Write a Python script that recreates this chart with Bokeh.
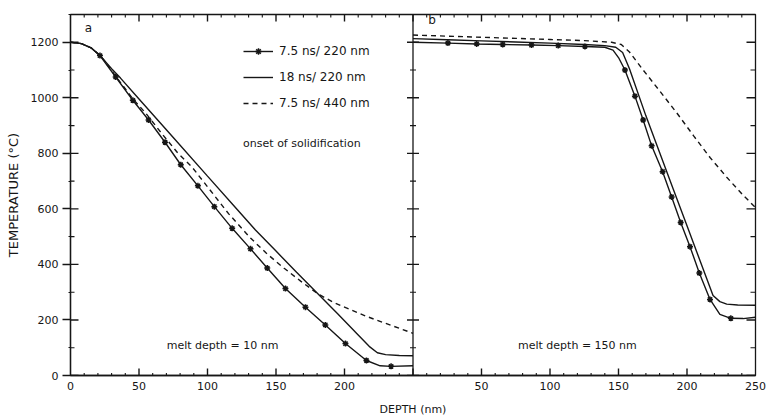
from bokeh.plotting import figure
from bokeh.models import (Range1d, FixedTicker, SingleIntervalTicker, Label,
                          Legend, LegendItem, ColumnDataSource, CDSView, BooleanFilter)
from bokeh.embed import file_html
from bokeh.resources import INLINE

# ---- panel a: melt depth 10 nm ----
a_fast_x = [0, 8, 15, 21.5, 33, 45.5, 57, 69, 80.5, 93, 105, 118, 131.4, 143.6, 156.9, 171.5, 186, 200.7, 216, 226, 234, 250]
a_fast_y = [1200, 1195, 1180, 1152, 1075, 991, 920, 840, 759, 683, 608, 530, 456, 387, 313, 246, 182, 115, 54, 35, 33, 35]
a_fast_marked = [0, 0, 0, 1, 1, 1, 1, 1, 1, 1, 1, 1, 1, 1, 1, 1, 1, 1, 1, 0, 1, 0]

a_slow_x = [0, 8, 15, 22, 30, 36.5, 50, 75, 100, 122, 135, 150, 165, 180, 195, 210, 218, 224, 230, 240, 250]
a_slow_y = [1200, 1195, 1180, 1150, 1105, 1071, 996, 857, 718, 596, 524, 448, 372, 297, 222, 146, 105, 82, 75, 72, 71]

a_long_x = [0, 8, 15, 22, 33, 45.5, 54.7, 67, 78, 88.8, 102, 115.5, 131.4, 143, 155.7, 168, 180, 192, 204, 216, 228.7, 240, 250]
a_long_y = [1200, 1195, 1180, 1152, 1078, 996, 946, 869, 803, 750, 667, 582, 495, 440, 387, 340, 296, 263, 238, 213, 190, 170, 152]

# ---- panel b: melt depth 150 nm ----
b_fast_x = [0, 25.5, 46.5, 65.5, 86.5, 106, 125.5, 140, 146, 150, 154.7, 162, 168, 174.2, 182.2, 188.8, 195.4, 202.2, 209, 216.8, 224, 232, 241, 250]
b_fast_y = [1200, 1197, 1194, 1192, 1190, 1188, 1185, 1182, 1172, 1145, 1100, 1006, 920, 827, 734, 643, 551, 464, 369, 274, 220, 206, 205, 210]
b_fast_marked = [0, 1, 1, 1, 1, 1, 1, 0, 0, 0, 1, 1, 1, 1, 1, 1, 1, 1, 1, 1, 0, 1, 0, 0]

b_slow_x = [0, 25, 50, 75, 100, 125, 140, 148, 153, 158, 170, 180, 190, 200, 210, 219, 224, 229, 237, 250]
b_slow_y = [1213, 1209, 1205, 1201, 1197, 1192, 1188, 1182, 1163, 1105, 935, 803, 671, 539, 407, 288, 266, 257, 254, 253]

b_long_x = [0, 25, 50, 75, 100, 125, 145, 152, 158, 168, 180, 192.5, 205, 216.8, 229, 241, 250]
b_long_y = [1226, 1222, 1218, 1214, 1210, 1206, 1200, 1192, 1165, 1100, 1025, 946, 862, 785, 714, 649, 605]

series_labels = ["7.5 ns/ 220 nm", "18 ns/ 220 nm", "7.5 ns/ 440 nm"]
depth_ticks_a = [0, 50, 100, 150, 200]
depth_ticks_b = [50, 100, 150, 200, 250]
temp_major = [0, 200, 400, 600, 800, 1000, 1200]
temp_minor = [100, 300, 500, 700, 900, 1100]
panel_width_nm = 250
temp_top = 1300

INK = "#161616"
FONT = "DejaVu Sans"

W, H = 768, 420
BL, BR, BT, BB = 70, 13, 14, 45
x_end = 2 * panel_width_nm

p = figure(width=W, height=H, output_backend="svg", toolbar_location=None,
           x_range=Range1d(0, x_end), y_range=Range1d(0, temp_top),
           min_border_left=BL, min_border_right=BR, min_border_top=BT, min_border_bottom=BB,
           background_fill_color="white", border_fill_color="white")
p.extra_x_ranges = {"b": Range1d(-panel_width_nm, panel_width_nm)}
p.grid.visible = False
p.outline_line_color = INK
p.outline_line_width = 1.3

# data units per screen pixel, used for the tick lengths
dx_px = x_end / (W - BL - BR)
dy_px = temp_top / (H - BT - BB)

# bottom axis: two depth scales side by side
major = depth_ticks_a + [panel_width_nm + t for t in depth_ticks_b]
minor = [t for t in range(0, x_end + 1, 10) if t % 50 != 0]
xax = p.below[0]
xax.ticker = FixedTicker(ticks=major, minor_ticks=minor)
overrides = {t: str(t) for t in depth_ticks_a}
overrides.update({panel_width_nm + t: str(t) for t in depth_ticks_b})
xax.major_label_overrides = overrides
xax.axis_label = "DEPTH (nm)"

yax = p.left[0]
yax.ticker = SingleIntervalTicker(interval=200, num_minor_ticks=2)
yax.axis_label = "TEMPERATURE (\u00b0C)"

for ax in (xax, yax):
    ax.axis_line_color = INK
    ax.axis_line_width = 1.3
    ax.major_tick_line_color = INK
    ax.major_tick_line_width = 1.3
    ax.minor_tick_line_color = INK
    ax.major_label_text_font = FONT
    ax.major_label_text_font_size = "11px"
    ax.major_label_text_color = INK
    ax.axis_label_text_font = FONT
    ax.axis_label_text_font_size = "11px"
    ax.axis_label_text_font_style = "normal"
    ax.axis_label_text_color = INK

yax.axis_label_text_font_size = "13px"

xax.major_tick_in = 0
xax.major_tick_out = 0
xax.minor_tick_in = 0
xax.minor_tick_out = 0
xax.major_label_standoff = 6
xax.axis_label_standoff = 10

yax.major_tick_in = 0
yax.major_tick_out = 8
yax.minor_tick_in = 0
yax.minor_tick_out = 2
yax.major_label_standoff = 4
yax.axis_label_standoff = 7


# inward tick marks along every frame edge and on both sides of the panel divider,
# collected as short polylines
tick_xs, tick_ys, tick_w = [], [], []


def vticks(xs, y0, length_px, width):
    for x in xs:
        tick_xs.append([x, x])
        tick_ys.append([y0, y0 + length_px * dy_px])
        tick_w.append(width)


def hticks(ys, x0, length_px, width):
    for y in ys:
        tick_xs.append([x0, x0 + length_px * dx_px])
        tick_ys.append([y, y])
        tick_w.append(width)


edge_major = [t for t in major if 0 < t < x_end] + [panel_width_nm]
vticks(edge_major, 0, 7, 1.4)
vticks(minor, 0, 2.5, 1.1)
vticks(edge_major, temp_top, -7, 1.4)
vticks(minor, temp_top, -3, 1.1)
hticks(temp_major, 0, 8, 1.4)
hticks(temp_minor, 0, 4, 1.1)
hticks(temp_major, x_end, -9, 1.4)
hticks(temp_minor, x_end, -5, 1.1)
hticks(temp_major, panel_width_nm - 6 * dx_px, 12, 1.4)
hticks(temp_minor, panel_width_nm - 3 * dx_px, 6, 1.1)
vticks([panel_width_nm], 0, temp_top / dy_px, 1.3)
p.multi_line(xs="xs", ys="ys", line_width="w", line_color=INK,
             source=ColumnDataSource(dict(xs=tick_xs, ys=tick_ys, w=tick_w)))


def draw(xs, ys, range_name="default", dash="solid", marked=None):
    src = ColumnDataSource(dict(x=xs, y=ys))
    line = p.line("x", "y", source=src, line_color=INK, line_width=1.4, line_dash=dash,
                  x_range_name=range_name)
    marks = None
    if marked is not None:
        view = CDSView(filter=BooleanFilter([bool(m) for m in marked]))
        marks = p.scatter("x", "y", source=src, view=view, marker="asterisk", size=6,
                          line_color=INK, line_width=1.5, x_range_name=range_name)
    return line, marks


la1, ma1 = draw(a_fast_x, a_fast_y, marked=a_fast_marked)
la2, _ = draw(a_slow_x, a_slow_y)
la3, _ = draw(a_long_x, a_long_y, dash="5 4")
draw(b_fast_x, b_fast_y, "b", marked=b_fast_marked)
draw(b_slow_x, b_slow_y, "b")
draw(b_long_x, b_long_y, "b", dash="5 4")

legend = Legend(items=[LegendItem(label=series_labels[0], renderers=[la1, ma1]),
                       LegendItem(label=series_labels[1], renderers=[la2]),
                       LegendItem(label=series_labels[2], renderers=[la3])],
                location=(173, 264), glyph_width=30, glyph_height=16, label_height=16,
                spacing=10, padding=0, margin=0, label_standoff=6,
                label_text_font=FONT, label_text_font_size="12px", label_text_color=INK,
                border_line_color=None, background_fill_alpha=0)
p.add_layout(legend)


def note(x, y, text, align="center", rng="default", size="11px"):
    p.add_layout(Label(x=x, y=y, text=text, x_range_name=rng, text_align=align,
                       text_baseline="middle", text_font=FONT, text_font_size=size,
                       text_color=INK))


note(13, 1250, "a", size="12px")
note(14, 1280, "b", rng="b", size="12px")
note(126, 835, "onset of solidification", align="left")
note(111, 108, "melt depth = 10 nm")
note(120, 108, "melt depth = 150 nm", rng="b")

open("out.html", "w").write(file_html(p, INLINE))
